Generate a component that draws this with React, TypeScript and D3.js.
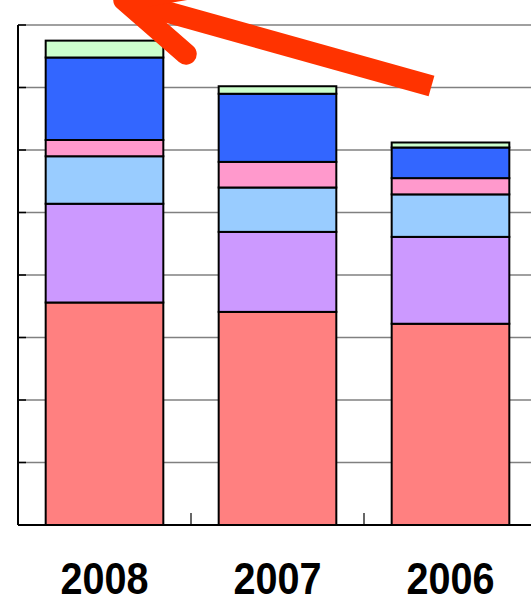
import React, { useEffect, useRef } from "react";
import * as d3 from "d3";

// Category labels along the x axis
const years = ["2008", "2007", "2006"];

// Stacked series values, bottom to top
const seriesRed = [3.56, 3.41, 3.22];
const seriesPurple = [1.58, 1.28, 1.39];
const seriesLightBlue = [0.76, 0.71, 0.68];
const seriesPink = [0.26, 0.41, 0.26];
const seriesBlue = [1.32, 1.09, 0.49];
const seriesGreen = [0.27, 0.12, 0.08];

const seriesKeys = ["red", "purple", "lightBlue", "pink", "blue", "green"];
const seriesColors = ["#FF8080", "#CC99FF", "#99CCFF", "#FF99CC", "#3366FF", "#CCFFCC"];

// Value axis gridline steps
const yTicks = [0, 1, 2, 3, 4, 5, 6, 7, 8];

const W = 531;
const H = 603;

export default function App() {
  const ref = useRef<SVGSVGElement | null>(null);

  useEffect(() => {
    document.body.style.margin = "0";
    const svg = d3.select(ref.current);
    svg.selectAll("*").remove();

    const left = 18;
    const top = 25;
    const bottom = 525;
    const slot = 173;
    const right = left + slot * years.length;

    const x = d3
      .scaleBand<string>()
      .domain(years)
      .range([left, right])
      .paddingInner(0.32)
      .paddingOuter(0.16);

    const y = d3.scaleLinear().domain([0, 8]).range([bottom, top]);

    const rows = years.map((yr, i) => ({
      year: yr,
      red: seriesRed[i],
      purple: seriesPurple[i],
      lightBlue: seriesLightBlue[i],
      pink: seriesPink[i],
      blue: seriesBlue[i],
      green: seriesGreen[i],
    }));

    const stacked = d3.stack<any>().keys(seriesKeys)(rows);

    // gridlines
    svg
      .append("g")
      .selectAll("line")
      .data(yTicks.slice(1))
      .join("line")
      .attr("x1", left)
      .attr("x2", W + 20)
      .attr("y1", (d) => y(d))
      .attr("y2", (d) => y(d))
      .attr("stroke", "#808080")
      .attr("stroke-width", 1.5);

    // stacked bars
    const layers = svg
      .append("g")
      .selectAll("g")
      .data(stacked)
      .join("g")
      .attr("fill", (_, i) => seriesColors[i]);

    layers
      .selectAll("rect")
      .data((d) => d)
      .join("rect")
      .attr("x", (d: any) => x(d.data.year)!)
      .attr("width", x.bandwidth())
      .attr("y", (d: any) => y(d[1]))
      .attr("height", (d: any) => y(d[0]) - y(d[1]))
      .attr("stroke", "#000")
      .attr("stroke-width", 2);

    // axes
    const axes = svg.append("g").attr("stroke", "#000");
    axes
      .append("line")
      .attr("x1", left)
      .attr("x2", left)
      .attr("y1", top)
      .attr("y2", bottom)
      .attr("stroke-width", 2);
    axes
      .append("line")
      .attr("x1", left)
      .attr("x2", W + 20)
      .attr("y1", bottom)
      .attr("y2", bottom)
      .attr("stroke-width", 2);

    // value axis ticks (inside)
    axes
      .selectAll("line.yt")
      .data(yTicks.slice(1))
      .join("line")
      .attr("class", "yt")
      .attr("x1", left)
      .attr("x2", left + 8)
      .attr("y1", (d) => y(d))
      .attr("y2", (d) => y(d))
      .attr("stroke-width", 1.5);

    // category boundary ticks (inside)
    const step = x.step();
    axes
      .selectAll("line.xt")
      .data(years.slice(1))
      .join("line")
      .attr("class", "xt")
      .attr("x1", (d) => x(d)! - x.paddingInner() * step / 2)
      .attr("x2", (d) => x(d)! - x.paddingInner() * step / 2)
      .attr("y1", bottom)
      .attr("y2", bottom - 12)
      .attr("stroke-width", 1.2);

    // year labels
    svg
      .append("g")
      .selectAll("text")
      .data(years)
      .join("text")
      .attr("x", (d) => x(d)! + x.bandwidth() / 2)
      .attr("y", 594)
      .attr("text-anchor", "middle")
      .attr("font-family", "'Liberation Sans', Arial, sans-serif")
      .attr("font-weight", "bold")
      .attr("font-size", 44)
      .attr("textLength", 88)
      .attr("lengthAdjust", "spacingAndGlyphs")
      .attr("fill", "#000")
      .text((d) => d);

    // annotation arrow pointing up-left
    const tip: [number, number] = [124, 0];
    const tail: [number, number] = [431.5, 86];
    const wingLow: [number, number] = [186, 54];
    const wingHigh: [number, number] = [205, -14];
    const arrow = svg.append("g").attr("stroke", "#FF3300").attr("fill", "none").attr("stroke-width", 21.5);
    arrow
      .append("path")
      .attr("d", d3.line()([tail, tip]))
      .attr("stroke-linecap", "butt");
    arrow
      .append("path")
      .attr("d", d3.line()([wingLow, tip, wingHigh]))
      .attr("stroke-linecap", "round")
      .attr("stroke-linejoin", "round");
  }, []);

  return <svg ref={ref} width={W} height={H} style={{ display: "block" }} />;
}
